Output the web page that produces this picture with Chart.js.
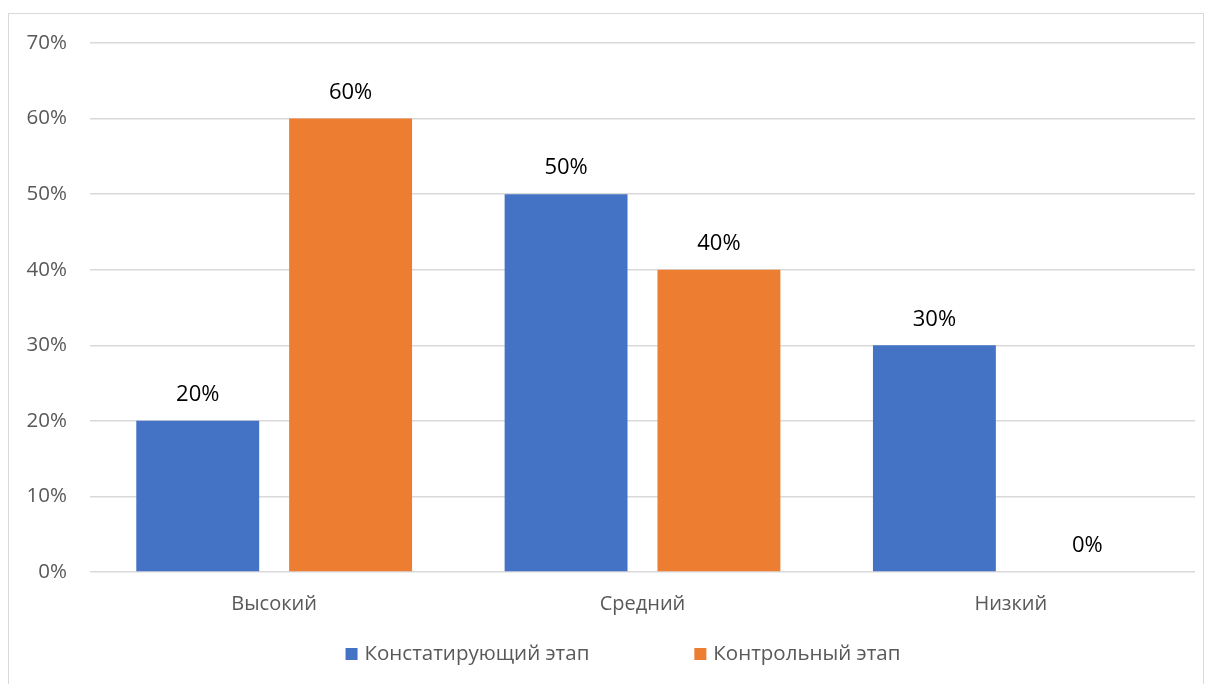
<!DOCTYPE html>
<html>
<head>
<meta charset="utf-8">
<script src="https://cdn.jsdelivr.net/npm/chart.js@4"></script>
<style>
  body { margin: 0; background: #fff; }
  #wrap {
    position: absolute; left: 8px; top: 13px;
    width: 1196px; height: 680px;
    border: 1px solid #d9d9d9; box-sizing: border-box;
  }
  #wrap canvas { position: absolute; left: 0; top: 0; }
</style>
</head>
<body>
<div id="wrap"><canvas id="myChart" width="1194" height="678"></canvas></div>
<script>
const categories = ['Высокий', 'Средний', 'Низкий'];
const stageStart = [20, 50, 30];   // Констатирующий этап
const stageControl = [60, 40, 0];  // Контрольный этап
const seriesNames = ['Констатирующий этап', 'Контрольный этап'];

const FONT = '"Open Sans", "Noto Sans", sans-serif';

// draws the % value above each bar
const valueLabels = {
    id: 'valueLabels',
    afterDatasetsDraw(chart) {
        const ctx = chart.ctx;
        ctx.save();
        ctx.font = '22px ' + FONT;
        ctx.fillStyle = '#000';
        ctx.textAlign = 'center';
        ctx.textBaseline = 'middle';
        chart.data.datasets.forEach((ds, i) => {
            chart.getDatasetMeta(i).data.forEach((bar, j) => {
                ctx.fillText(ds.data[j] + '%', bar.x, bar.y - 26);
            });
        });
        ctx.restore();
    }
};

// legend at the bottom, wide gap between the two items like in Excel
const bottomLegend = {
    id: 'bottomLegend',
    afterDraw(chart) {
        const ctx = chart.ctx;
        const box = 12, gapText = 7, gapItem = 105;
        ctx.save();
        ctx.font = '20.5px ' + FONT;
        ctx.textBaseline = 'middle';
        const items = chart.data.datasets.map(ds => ({
            text: ds.label, color: ds.backgroundColor,
            w: box + gapText + ctx.measureText(ds.label).width
        }));
        let total = items.reduce((s, it) => s + it.w, 0) + gapItem * (items.length - 1);
        let x = chart.width / 2 + 17 - total / 2;
        const y = 640;
        items.forEach(it => {
            ctx.fillStyle = it.color;
            ctx.fillRect(x, y - box / 2, box, box);
            ctx.fillStyle = '#595959';
            ctx.fillText(it.text, x + box + gapText, y);
            x += it.w + gapItem;
        });
        ctx.restore();
    }
};

const data = {
    labels: categories,
    datasets: [{
            label: seriesNames[0],
            data: stageStart,
            backgroundColor: '#4472c4',
        },
        {
            label: seriesNames[1],
            data: stageControl,
            backgroundColor: '#ed7d31',
        }
    ]
};

const config = {
    type: 'bar',
    data: data,
    plugins: [valueLabels, bottomLegend],
    options: {
        responsive: false,
        animation: false,
        datasets: {
            bar: { categoryPercentage: 0.83, barPercentage: 0.804 }
        },
        layout: {
            padding: { left: 0, right: 8, top: 29, bottom: 64 }
        },
        plugins: {
            tooltip: { enabled: false },
            legend: { display: false }
        },
        scales: {
            x: {
                grid: { display: false },
                border: { display: false },
                ticks: {
                    color: '#595959',
                    padding: 12,
                    font: { family: FONT, size: 20 }
                }
            },
            y: {
                min: 0,
                max: 70,
                afterFit: (axis) => {
                    axis.width = 81;
                    axis.paddingTop = 0;
                    axis.paddingBottom = 0;
                },
                border: { display: false },
                grid: { color: '#d9d9d9', lineWidth: 1.5, drawTicks: false },
                ticks: {
                    stepSize: 10,
                    padding: 23,
                    color: '#595959',
                    font: { family: FONT, size: 20.5 },
                    callback: (v) => v + '%'
                }
            }
        }
    }
};

let myChart = new Chart(document.getElementById('myChart'), config);
</script>
</body>
</html>
